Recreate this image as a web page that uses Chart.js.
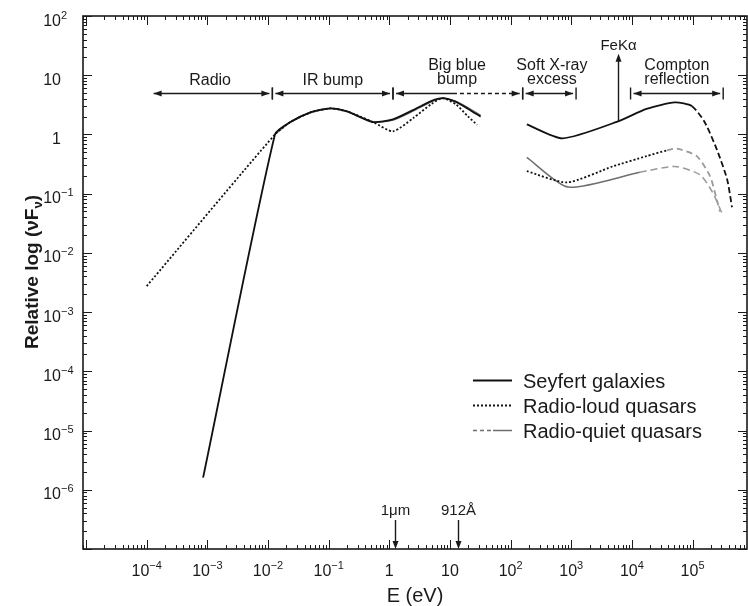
<!DOCTYPE html>
<html>
<head>
<meta charset="utf-8">
<script src="https://cdn.jsdelivr.net/npm/chart.js@4.4.1/dist/chart.umd.min.js"></script>
<style>
  html, body { margin: 0; padding: 0; background: #fff; }
  #wrap { width: 748px; height: 606px; position: relative; }
</style>
</head>
<body>
<div id="wrap"><canvas id="sed"></canvas></div>
<script>
// Energy (eV) and relative νFν for each class; null marks the unobserved EUV gap
const seyfertE = [8.5e-4, 0.013, 0.023, 0.05, 0.105, 0.2, 0.54, 1.15, 2.5, 5, 7.6, 12.6, 20, 32, 80, 185, 720, 5900, 17400, 51000, 98000, 158000, 251000, 372000, 447000];
const seyfertF = [1.6e-6, 1.0, 1.6, 2.35, 2.75, 2.45, 1.62, 1.8, 2.6, 3.7, 4.1, 3.55, 2.7, 2.0, null, 1.48, 0.86, 1.66, 2.7, 3.47, 3.0, 1.62, 0.56, 0.174, 0.059];

const loudE = [1e-4, 0.013, 0.023, 0.05, 0.105, 0.2, 0.54, 1.15, 2.5, 5, 7.6, 12.6, 20, 28, 80, 185, 850, 4900, 17400, 38000, 55000, 117500, 195000, 251000, 282000];
const loudF = [2.75e-3, 1.0, 1.6, 2.35, 2.75, 2.45, 1.62, 1.13, 1.9, 3.3, 4.1, 3.2, 2.0, 1.45, null, 0.24, 0.155, 0.29, 0.43, 0.54, 0.575, 0.43, 0.195, 0.079, 0.05];

const quietE = [0.013, 0.023, 0.05, 0.105, 0.2, 0.54, 1.15, 2.5, 5, 7.6, 12.6, 20, 32, 80, 185, 890, 13500, 51300, 132000, 214000, 302000];
const quietF = [1.0, 1.6, 2.35, 2.75, 2.45, 1.62, 1.75, 2.5, 3.6, 4.05, 3.6, 2.8, 2.1, null, 0.41, 0.129, 0.229, 0.288, 0.209, 0.105, 0.048];

// Where each curve turns into an extrapolation
const seyfertDashFrom = 98000;
const loudDashFrom = 38000;
const quietDashFrom = 13500;

// Axis limits and labelled decades
const xMin = 8.9e-6, xMax = 7.9e5;
const yMin = 1e-7, yMax = 100;
const xDecades = [-4, -3, -2, -1, 0, 1, 2, 3, 4, 5];
const yDecades = [-6, -5, -4, -3, -2, -1, 0, 1, 2];

// Spectral regions marked above the curves (E in eV)
const regions = [
  { text: ['Radio'], from: 1.3e-4, to: 0.0118, at: 1.11e-3, bars: [false, true] },
  { text: ['IR bump'], from: 0.0118, to: 1.15, at: 0.117, bars: [true, true] },
  { text: ['Big blue', 'bump'], from: 1.15, to: 158, at: 13.1, dashFrom: 11.2, bars: [true, true] },
  { text: ['Soft X-ray', 'excess'], from: 158, to: 1200, at: 480, bars: [true, true] },
  { text: ['Compton', 'reflection'], from: 9500, to: 3.2e5, at: 55000, bars: [true, true] },
];
const regionLevel = 5.0;
const feLine = { text: 'FeKα', at: 5900, from: 1.66, to: 23 };
const markers = [{ text: '1μm', at: 1.24 }, { text: '912Å', at: 13.6 }];

const toPoints = (xs, ys) => xs.map((x, i) => ({ x, y: ys[i] }));

const FONT = '"Liberation Sans", Arial, sans-serif';
const INK = '#1a1a1a';

function powParts(d) {
  if (d === 0) return ['1', ''];
  if (d === 1) return ['10', ''];
  return ['10', String(d).replace('-', '−')];
}

function arrowHead(ctx, x, y, dx, dy, len, half) {
  ctx.beginPath();
  ctx.moveTo(x, y);
  ctx.lineTo(x - dx * len - dy * half, y - dy * len + dx * half);
  ctx.lineTo(x - dx * len + dy * half, y - dy * len - dx * half);
  ctx.closePath();
  ctx.fill();
}

// Frame, inward ticks, tick labels, titles, region arrows and legend
const sedDecor = {
  id: 'sedDecor',
  afterDatasetsDraw(chart) {
    const { ctx, chartArea: a, scales } = chart;
    const xs = scales.x, ys = scales.y;
    ctx.save();
    ctx.strokeStyle = INK;
    ctx.fillStyle = INK;

    ctx.lineWidth = 1.6;
    ctx.strokeRect(a.left, a.top, a.right - a.left, a.bottom - a.top);

    ctx.lineWidth = 1;
    ctx.beginPath();
    for (let d = -8; d <= 6; d++) {
      for (let m = 1; m <= 9; m++) {
        const v = m * Math.pow(10, d);
        const len = m === 1 ? 9 : 4;
        if (v >= xMin && v <= xMax) {
          const px = Math.round(xs.getPixelForValue(v)) + 0.5;
          ctx.moveTo(px, a.bottom); ctx.lineTo(px, a.bottom - len);
          ctx.moveTo(px, a.top); ctx.lineTo(px, a.top + len);
        }
        if (v >= yMin && v <= yMax) {
          const py = Math.round(ys.getPixelForValue(v)) + 0.5;
          ctx.moveTo(a.left, py); ctx.lineTo(a.left + len, py);
          ctx.moveTo(a.right, py); ctx.lineTo(a.right - len, py);
        }
      }
    }
    ctx.stroke();

    // tick labels with superscript exponents
    const baseFont = '16px ' + FONT, supFont = '11px ' + FONT;
    ctx.textBaseline = 'alphabetic';
    ctx.textAlign = 'left';
    xDecades.forEach(d => {
      const [b, s] = powParts(d);
      const px = xs.getPixelForValue(Math.pow(10, d));
      ctx.font = baseFont; const wb = ctx.measureText(b).width;
      ctx.font = supFont; const ws = s ? ctx.measureText(s).width : 0;
      const x0 = px - (wb + ws) / 2;
      ctx.font = baseFont; ctx.fillText(b, x0, a.bottom + 27);
      if (s) { ctx.font = supFont; ctx.fillText(s, x0 + wb, a.bottom + 20); }
    });
    yDecades.forEach(d => {
      const [b, s] = powParts(d);
      const py = ys.getPixelForValue(Math.pow(10, d));
      ctx.font = baseFont; const wb = ctx.measureText(b).width;
      ctx.fillText(b, a.left - 22 - wb, py + 9.5);
      if (s) { ctx.font = supFont; ctx.fillText(s, a.left - 22, py + 2.5); }
    });

    // axis titles
    ctx.font = '20px ' + FONT;
    ctx.textAlign = 'center';
    ctx.fillText('E (eV)', (a.left + a.right) / 2, a.bottom + 53);

    ctx.save();
    ctx.translate(38, 272);
    ctx.rotate(-Math.PI / 2);
    const tParts = [['bold 19px ' + FONT, 'Relative log (νF', 0], ['bold 13px ' + FONT, 'ν', 4], ['bold 19px ' + FONT, ')', 0]];
    let tw = 0;
    tParts.forEach(p => { ctx.font = p[0]; tw += ctx.measureText(p[1]).width; });
    let tx = -tw / 2;
    ctx.textAlign = 'left';
    tParts.forEach(p => { ctx.font = p[0]; ctx.fillText(p[1], tx, p[2]); tx += ctx.measureText(p[1]).width; });
    ctx.restore();

    // region arrows
    const ay = Math.round(ys.getPixelForValue(regionLevel)) + 0.5;
    ctx.lineWidth = 1.4;
    ctx.font = '16px ' + FONT;
    ctx.textAlign = 'center';
    regions.forEach(r => {
      const x1 = xs.getPixelForValue(r.from), x2 = xs.getPixelForValue(r.to);
      const t1 = x1 + (r.bars[0] ? 3 : 0), t2 = x2 - (r.bars[1] ? 3 : 0);
      const xd = r.dashFrom ? xs.getPixelForValue(r.dashFrom) : t2;
      ctx.beginPath(); ctx.moveTo(t1, ay); ctx.lineTo(xd, ay); ctx.stroke();
      if (r.dashFrom) {
        ctx.setLineDash([4, 3]);
        ctx.beginPath(); ctx.moveTo(xd, ay); ctx.lineTo(t2, ay); ctx.stroke();
        ctx.setLineDash([]);
      }
      arrowHead(ctx, t1, ay, -1, 0, 8, 3);
      arrowHead(ctx, t2, ay, 1, 0, 8, 3);
      ctx.beginPath();
      if (r.bars[0]) { ctx.moveTo(x1, ay - 6); ctx.lineTo(x1, ay + 6); }
      if (r.bars[1]) { ctx.moveTo(x2, ay - 6); ctx.lineTo(x2, ay + 6); }
      ctx.stroke();
      const cx = xs.getPixelForValue(r.at);
      if (r.text.length === 1) {
        ctx.fillText(r.text[0], cx, ay - 9);
      } else {
        ctx.fillText(r.text[0], cx, ay - 24);
        ctx.fillText(r.text[1], cx, ay - 10);
      }
    });

    // iron line
    const fx = Math.round(xs.getPixelForValue(feLine.at)) + 0.5;
    const fy1 = ys.getPixelForValue(feLine.from), fy2 = ys.getPixelForValue(feLine.to);
    ctx.beginPath(); ctx.moveTo(fx, fy1); ctx.lineTo(fx, fy2 + 6); ctx.stroke();
    arrowHead(ctx, fx, fy2, 0, -1, 8, 3);
    ctx.font = '15px ' + FONT;
    ctx.fillText(feLine.text, fx, fy2 - 4);

    // wavelength markers on the energy axis
    ctx.font = '15px ' + FONT;
    markers.forEach(m => {
      const mx = Math.round(xs.getPixelForValue(m.at)) + 0.5;
      ctx.beginPath(); ctx.moveTo(mx, a.bottom - 29); ctx.lineTo(mx, a.bottom - 6); ctx.stroke();
      arrowHead(ctx, mx, a.bottom, 0, 1, 8, 3);
      ctx.fillText(m.text, mx, a.bottom - 34);
    });

    // legend
    const lx = a.right - 274, ly = a.bottom - 169;
    ctx.font = '20px ' + FONT;
    ctx.textAlign = 'left';
    chart.data.datasets.forEach((ds, i) => {
      const yy = ly + i * 25 + 0.5;
      ctx.strokeStyle = ds.borderColor;
      ctx.lineWidth = ds.borderWidth;
      ctx.beginPath();
      if (i === 2) {
        ctx.setLineDash([4, 3]);
        ctx.moveTo(lx, yy); ctx.lineTo(lx + 18, yy); ctx.stroke();
        ctx.setLineDash([]);
        ctx.beginPath(); ctx.moveTo(lx + 20, yy); ctx.lineTo(lx + 39, yy);
      } else {
        ctx.setLineDash(ds.borderDash || []);
        ctx.moveTo(lx, yy); ctx.lineTo(lx + 39, yy);
      }
      ctx.stroke();
      ctx.setLineDash([]);
      ctx.fillStyle = INK;
      ctx.fillText(ds.label, lx + 50, yy + 7);
    });
    ctx.restore();
  }
};

new Chart(document.getElementById('sed'), {
  type: 'line',
  data: {
    datasets: [
      {
        label: 'Seyfert galaxies',
        data: toPoints(seyfertE, seyfertF),
        borderColor: '#111',
        borderWidth: 1.8,
        segment: { borderDash: c => c.p0.parsed.x >= seyfertDashFrom ? [6, 3] : undefined },
      },
      {
        label: 'Radio-loud quasars',
        data: toPoints(loudE, loudF),
        borderColor: '#111',
        borderWidth: 1.8,
        borderDash: [2, 2],
        segment: {
          borderDash: c => c.p0.parsed.x >= loudDashFrom ? [6, 4] : undefined,
          borderColor: c => c.p0.parsed.x >= loudDashFrom ? '#9a9a9a' : undefined,
        },
      },
      {
        label: 'Radio-quiet quasars',
        data: toPoints(quietE, quietF),
        borderColor: '#6e6e6e',
        borderWidth: 1.5,
        segment: {
          borderDash: c => c.p0.parsed.x >= quietDashFrom ? [7, 4] : undefined,
          borderColor: c => c.p0.parsed.x >= quietDashFrom ? '#9a9a9a' : undefined,
        },
      },
    ],
  },
  options: {
    responsive: true,
    maintainAspectRatio: false,
    animation: false,
    parsing: false,
    spanGaps: false,
    elements: { point: { radius: 0 }, line: { tension: 0.22, fill: false } },
    layout: { padding: { left: 83, right: 1, top: 16, bottom: 57 } },
    plugins: { legend: { display: false }, tooltip: { enabled: false } },
    scales: {
      x: {
        type: 'logarithmic', min: xMin, max: xMax,
        ticks: { display: false }, grid: { display: false, drawTicks: false }, border: { display: false },
      },
      y: {
        type: 'logarithmic', min: yMin, max: yMax,
        ticks: { display: false }, grid: { display: false, drawTicks: false }, border: { display: false },
      },
    },
  },
  plugins: [sedDecor],
});
</script>
</body>
</html>
